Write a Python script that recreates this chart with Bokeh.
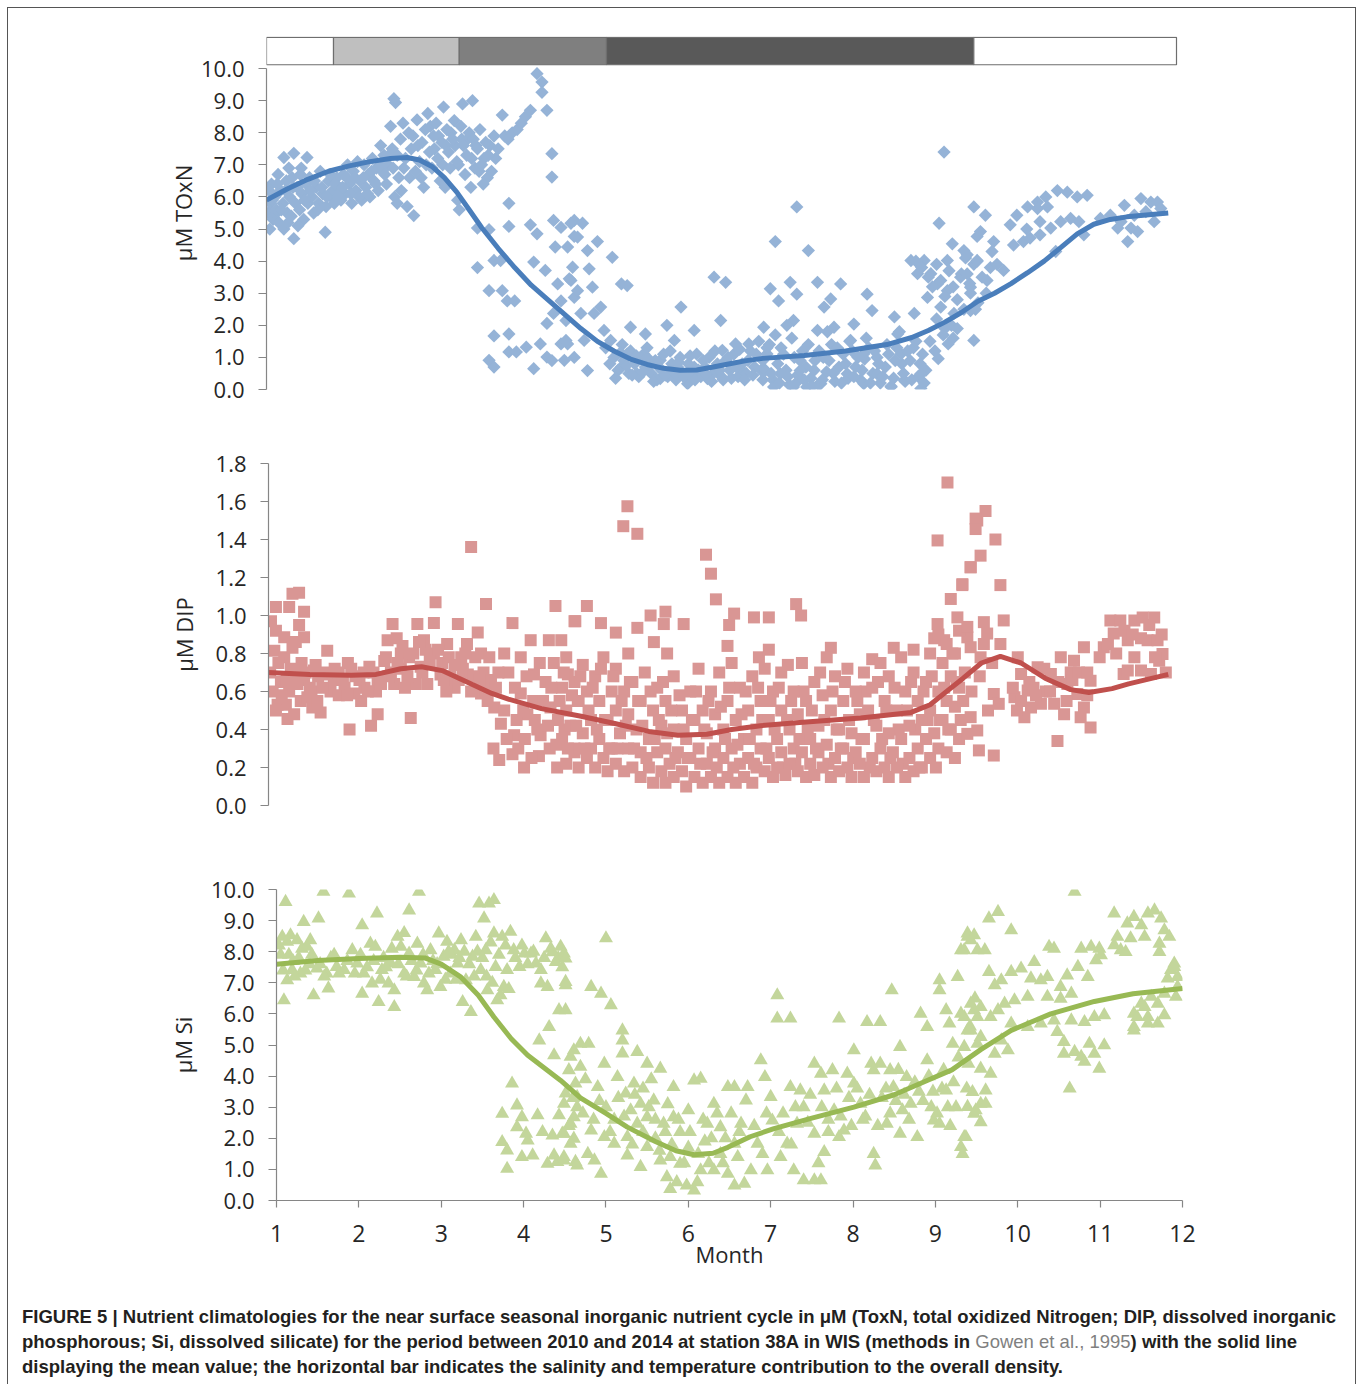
from bokeh.plotting import figure
from bokeh.layouts import column
from bokeh.models import Range1d, FixedTicker, PrintfTickFormatter, Div
from bokeh.embed import file_html
from bokeh.resources import INLINE

# ---------------------------------------------------------------- data
# density contribution bar (month boundaries and shade of each segment)
band_start = [1.0, 1.81, 3.33, 5.11, 9.55]
band_end = [1.81, 3.33, 5.11, 9.55, 12.0]
band_shade = ["#ffffff", "#bfbfbf", "#7f7f7f", "#595959", "#ffffff"]

# TOxN observations (month, uM)
toxn_jan_feb = [
    (1.02, 5.5), (1.03, 6.2), (1.05, 5.8), (1.06, 6.4), (1.08, 5.3), (1.1, 6.0), (1.11, 5.47), (1.12, 5.6),
    (1.14, 6.7), (1.15, 5.2), (1.17, 6.2), (1.2, 5.8), (1.21, 7.23), (1.21, 5.0), (1.24, 6.5), (1.25, 5.5),
    (1.27, 6.9), (1.28, 6.0), (1.3, 5.4), (1.31, 6.6), (1.33, 4.7), (1.33, 7.36), (1.35, 5.8), (1.37, 6.3),
    (1.4, 5.6), (1.42, 6.9), (1.43, 6.1), (1.45, 5.3), (1.48, 6.4), (1.49, 7.23), (1.5, 5.8), (1.52, 6.6),
    (1.55, 6.0), (1.57, 5.5), (1.6, 6.3), (1.63, 5.8), (1.65, 6.8), (1.68, 6.1), (1.71, 4.9), (1.72, 5.7),
    (1.75, 6.5), (1.78, 6.0), (1.8, 6.2), (1.82, 5.8), (1.85, 6.6), (1.88, 6.3), (1.9, 5.9), (1.93, 6.7),
    (1.95, 6.1), (1.98, 7.0), (2.0, 6.4), (2.03, 5.8), (2.05, 6.8), (2.08, 6.2), (2.1, 7.1), (2.13, 6.5),
    (2.15, 5.9), (2.18, 7.0), (2.2, 6.3), (2.23, 6.7), (2.25, 6.0), (2.28, 7.2), (2.3, 6.5), (2.33, 6.9),
    (2.35, 6.2), (2.38, 7.6), (2.4, 6.8), (2.42, 7.3), (2.45, 6.4), (2.47, 7.0),
]
toxn_winter_dense = [
    (1.04, 5.0), (1.07, 5.9), (1.13, 6.4), (1.18, 5.6), (1.23, 6.2), (1.26, 5.2), (1.32, 6.3), (1.38, 5.1),
    (1.41, 6.7), (1.46, 5.9), (1.53, 6.2), (1.58, 6.5), (1.62, 5.6), (1.67, 6.3), (1.73, 6.0), (1.77, 6.7),
    (1.83, 6.4), (1.87, 6.0), (1.92, 6.3), (1.97, 6.6), (2.02, 6.1), (2.07, 6.6), (2.12, 6.0), (2.17, 6.6),
    (2.22, 6.1), (2.27, 6.8), (2.32, 6.4), (2.37, 7.0), (2.43, 6.7), (2.48, 7.3), (2.53, 6.9), (2.58, 7.3),
    (2.63, 6.2), (2.66, 6.9), (2.73, 6.6), (2.77, 7.9), (2.83, 7.6), (2.87, 6.6), (2.93, 7.0), (2.98, 8.2),
    (3.03, 7.5), (3.08, 7.9), (3.13, 7.0), (3.17, 7.6), (3.23, 8.0), (3.28, 7.6), (3.32, 7.0), (3.36, 7.8),
    (3.43, 7.8), (3.48, 7.2), (3.53, 7.6), (3.57, 6.8), (3.63, 7.2), (3.67, 6.6), (3.7, 7.6), (3.77, 7.2),
]
toxn_mar_apr = [
    (2.5, 8.2), (2.52, 7.5), (2.54, 9.06), (2.56, 8.94), (2.55, 6.0), (2.58, 5.8), (2.6, 6.6), (2.62, 7.8),
    (2.65, 8.3), (2.68, 7.2), (2.7, 5.7), (2.72, 8.0), (2.75, 7.5), (2.78, 5.42), (2.8, 6.8), (2.82, 8.4),
    (2.85, 7.1), (2.88, 7.7), (2.9, 6.3), (2.92, 8.1), (2.95, 8.6), (2.97, 7.4), (3.0, 6.9), (3.02, 7.9),
    (3.05, 8.3), (3.07, 7.2), (3.1, 6.5), (3.12, 7.7), (3.14, 8.8), (3.16, 6.3), (3.18, 8.1), (3.2, 7.4),
    (3.22, 6.9), (3.25, 7.8), (3.27, 8.38), (3.3, 7.1), (3.31, 5.9), (3.33, 5.6), (3.35, 8.2), (3.37, 8.9),
    (3.38, 7.6), (3.4, 6.7), (3.42, 7.3), (3.45, 8.0), (3.47, 6.3), (3.49, 9.0), (3.5, 7.8), (3.52, 6.9),
    (3.55, 7.5), (3.58, 8.1), (3.6, 7.0), (3.62, 6.4), (3.65, 7.7), (3.68, 7.3), (3.72, 6.8), (3.75, 7.9),
    (3.8, 7.5), (3.85, 8.55), (3.88, 7.9), (3.92, 7.8), (3.97, 8.0), (4.03, 8.1), (4.08, 8.3), (4.13, 8.5),
    (4.19, 8.7), (4.27, 9.84), (4.33, 9.58), (4.33, 9.26), (4.39, 8.7), (4.45, 7.35), (4.45, 6.62),
    (3.93, 5.8), (3.93, 5.08), (3.55, 3.8), (3.69, 4.98), (3.55, 5.03), (3.75, 4.02), (3.83, 4.02),
    (3.69, 3.08), (3.85, 3.08), (3.91, 2.76), (4.0, 2.76), (3.75, 1.67), (3.93, 1.73), (3.69, 0.91),
    (3.75, 0.7), (3.93, 1.17), (4.02, 1.17), (4.14, 1.32), (4.23, 0.65), (4.31, 1.42), (4.39, 1.01),
    (4.45, 0.9),
]
toxn_may_jun = [
    (4.39, 2.06), (4.47, 2.37), (4.23, 3.97), (4.37, 3.71), (4.19, 5.13), (4.27, 4.85), (4.47, 5.27),
    (4.56, 5.05), (4.49, 4.44), (4.64, 4.44), (4.72, 5.27), (4.76, 4.75), (4.52, 3.29), (4.68, 3.4),
    (4.56, 2.76), (4.72, 2.87), (4.56, 1.42), (4.64, 1.42), (4.72, 1.0), (4.68, 5.18), (4.82, 5.18),
    (4.72, 4.77), (5.0, 4.61), (4.88, 4.33), (4.7, 3.81), (4.9, 3.76), (5.18, 4.12), (4.66, 3.45),
    (4.76, 3.08), (4.94, 3.19), (5.04, 2.57), (5.29, 3.29), (5.36, 3.24), (4.62, 2.15), (4.8, 2.37),
    (4.96, 2.37), (4.62, 1.53), (4.84, 1.53), (5.08, 1.84), (4.6, 0.91), (4.88, 0.59), (5.16, 1.53),
    (5.4, 1.94), (5.58, 1.73), (5.36, 1.11), (5.56, 1.11), (5.76, 0.91), (5.97, 0.7), (6.17, 0.7),
    (5.48, 0.49), (5.76, 0.34), (6.09, 0.18), (6.33, 0.34), (5.29, 0.7), (5.84, 2.0), (6.01, 2.57),
    (5.93, 1.53), (6.17, 1.84), (6.41, 3.5), (6.55, 3.34), (6.49, 2.15), (6.51, 1.22), (6.67, 1.42),
    (6.83, 1.42), (6.75, 0.59),
    (5.1, 1.3), (5.15, 0.8), (5.2, 1.0), (5.25, 0.6), (5.3, 1.4), (5.32, 0.9), (5.38, 0.5), (5.4, 1.2),
    (5.45, 0.8), (5.5, 0.4), (5.52, 1.0), (5.58, 0.7), (5.6, 1.3), (5.65, 0.5), (5.7, 0.9), (5.72, 0.3),
    (5.78, 0.6), (5.8, 1.1), (5.85, 0.4), (5.9, 0.8), (5.95, 0.3), (6.0, 1.0), (6.02, 0.5), (6.08, 0.3),
    (6.1, 0.8), (6.15, 0.5), (6.2, 1.1), (6.25, 0.4), (6.3, 0.7), (6.35, 1.0), (6.4, 0.5), (6.45, 0.8),
    (6.5, 0.4), (6.55, 0.9), (6.6, 0.6), (6.65, 1.1), (6.7, 0.4), (6.75, 0.8), (6.8, 0.5), (6.85, 1.2),
    (6.9, 0.7), (6.95, 1.5),
]
toxn_summer_dense = [
    (5.22, 0.35), (5.28, 1.15), (5.35, 0.75), (5.42, 0.45), (5.47, 1.05), (5.55, 0.55), (5.62, 0.95),
    (5.68, 0.25), (5.74, 0.7), (5.82, 0.45), (5.88, 1.2), (5.92, 0.55), (5.98, 0.85), (6.05, 0.4),
    (6.12, 1.05), (6.18, 0.3), (6.22, 0.6), (6.28, 0.9), (6.32, 0.45), (6.38, 0.25), (6.42, 1.2), (6.48, 0.6),
    (6.52, 0.3), (6.58, 1.0), (6.62, 0.35), (6.68, 0.7), (6.72, 1.25), (6.78, 0.3), (6.82, 0.9), (6.88, 0.45),
    (6.92, 1.1), (6.98, 0.6), (7.03, 0.6), (7.08, 1.4), (7.12, 0.3), (7.18, 0.8), (7.22, 1.3), (7.28, 0.6),
    (7.32, 0.15), (7.38, 1.0), (7.42, 0.45), (7.48, 1.2), (7.52, 0.7), (7.58, 0.35), (7.63, 0.9), (7.67, 0.15),
    (7.73, 1.0), (7.77, 0.55), (7.83, 1.4), (7.87, 0.25), (7.92, 0.7), (7.97, 1.1), (8.03, 0.35), (8.08, 1.2),
    (8.12, 0.7), (8.18, 0.3), (8.23, 0.95), (8.28, 1.3), (8.33, 0.5), (8.38, 1.0), (8.42, 0.2), (8.48, 0.7),
    (8.52, 1.1), (8.58, 0.35), (8.62, 1.3), (8.68, 0.8), (8.72, 0.25), (8.78, 0.9), (8.82, 1.3), (8.88, 0.4),
    (8.93, 1.1), (8.97, 0.6), (9.02, 1.5), (9.08, 1.2), (9.18, 1.7), (9.28, 2.0), (9.35, 1.9),
]
toxn_jul_aug = [
    (7.01, 1.94), (7.15, 4.61), (7.09, 3.14), (7.33, 3.34), (7.41, 5.69), (7.19, 2.76), (7.41, 2.97),
    (7.55, 4.33), (7.66, 3.34), (7.82, 2.82), (7.74, 2.57), (7.94, 3.29), (7.37, 2.15), (7.29, 2.0),
    (7.05, 1.11), (7.13, 0.08), (7.37, 0.08), (7.53, 0.08), (7.21, 0.49), (7.45, 0.59), (7.7, 0.18),
    (7.66, 1.84), (7.86, 1.94), (8.1, 2.04), (8.26, 2.97), (8.32, 2.46), (8.06, 1.53), (8.22, 1.11),
    (8.38, 0.49), (8.02, 0.49), (8.22, 0.18), (8.55, 0.08), (8.71, 0.29), (8.91, 0.49), (8.91, 0.03),
    (8.67, 1.11), (8.63, 1.73), (8.59, 2.26), (8.83, 2.37), (9.12, 0.96), (9.24, 1.42),
    (7.0, 0.3), (7.0, 0.9), (7.05, 1.3), (7.1, 0.5), (7.15, 1.7), (7.2, 0.2), (7.25, 1.1), (7.3, 0.4),
    (7.35, 1.6), (7.4, 0.2), (7.45, 0.9), (7.5, 0.3), (7.55, 1.4), (7.6, 0.1), (7.62, 0.6), (7.68, 1.2),
    (7.72, 0.3), (7.78, 1.8), (7.8, 0.9), (7.85, 0.5), (7.9, 1.3), (7.95, 0.2), (8.0, 0.8), (8.05, 1.5),
    (8.1, 0.4), (8.15, 1.0), (8.2, 0.6), (8.25, 1.6), (8.3, 0.2), (8.35, 1.2), (8.4, 0.8), (8.45, 0.4),
    (8.5, 1.4), (8.55, 0.1), (8.6, 0.9), (8.65, 1.8), (8.7, 0.5), (8.75, 1.2), (8.8, 0.3), (8.85, 1.5),
    (8.9, 0.8), (8.95, 0.2),
]
toxn_sep_dec = [
    (8.79, 4.02), (8.95, 4.02), (8.87, 3.61), (9.03, 3.61), (9.19, 7.4), (9.13, 5.18), (9.29, 4.54),
    (9.23, 4.02), (9.55, 5.69), (9.43, 4.33), (9.59, 4.77), (9.11, 3.29), (9.23, 3.08), (9.39, 3.5),
    (9.51, 3.19), (8.99, 2.87), (9.15, 2.57), (9.31, 2.37), (9.51, 2.46), (9.55, 1.53), (9.59, 4.02),
    (8.85, 4.0), (8.92, 3.8), (9.0, 3.5), (9.05, 3.2), (9.1, 3.9), (9.15, 3.4), (9.2, 2.9), (9.25, 3.7),
    (9.3, 3.2), (9.35, 2.8), (9.4, 3.6), (9.45, 4.1), (9.5, 3.3), (9.55, 3.9), (9.6, 2.7), (9.65, 3.5),
    (9.7, 3.0), (9.75, 3.8), (9.1, 2.2), (9.2, 1.9), (9.3, 1.6),
    (9.69, 5.43), (9.63, 4.92), (9.79, 4.61), (9.77, 4.3), (9.47, 4.2), (9.59, 4.0), (9.83, 3.9),
    (9.91, 3.71), (9.47, 3.6), (9.71, 3.4), (9.51, 3.0), (9.43, 2.5), (9.57, 2.5), (9.99, 5.13),
    (10.07, 5.43), (10.2, 5.69), (10.32, 5.84), (10.42, 6.0), (10.56, 6.2), (10.68, 6.15), (10.8, 6.0),
    (10.92, 6.05), (10.32, 5.64), (10.44, 5.69), (10.03, 4.5), (10.15, 4.61), (10.23, 4.72), (10.35, 4.82),
    (10.48, 5.03), (10.6, 5.23), (10.72, 5.33), (10.82, 5.23), (10.88, 4.82), (10.54, 4.3), (10.19, 5.0),
    (10.35, 5.23), (11.08, 5.33), (11.2, 5.43), (11.33, 5.23), (11.37, 5.74), (11.29, 5.03), (11.41, 4.61),
    (11.53, 4.92), (11.57, 5.95), (11.69, 5.84), (11.77, 5.84), (11.81, 5.64), (11.73, 5.23), (11.49, 5.43),
    (11.63, 5.54), (11.45, 5.03),
]

# DIP observations (month, uM)
dip_jan_mar = [
    (1.09, 1.045), (1.03, 0.97), (1.09, 0.92), (1.19, 0.885), (1.07, 0.815), (1.19, 0.78), (1.29, 0.83),
    (1.29, 1.115), (1.37, 1.12), (1.25, 1.045), (1.43, 1.02), (1.37, 0.95), (1.43, 0.885), (1.33, 0.86),
    (1.11, 0.53), (1.21, 0.53), (1.09, 0.5), (1.23, 0.455), (1.31, 0.48), (1.39, 0.55), (1.47, 0.57),
    (1.53, 0.516), (1.63, 0.49), (1.59, 0.55), (1.31, 0.69), (1.43, 0.66), (1.55, 0.71), (1.67, 0.69),
    (1.71, 0.815), (1.79, 0.66), (1.92, 0.62), (1.96, 0.75), (2.0, 0.72), (2.04, 0.59), (2.12, 0.55),
    (1.98, 0.4), (2.16, 0.62), (2.22, 0.73), (2.24, 0.42), (2.32, 0.48), (2.32, 0.66), (2.4, 0.76),
    (2.44, 0.87), (2.5, 0.955), (2.52, 0.64), (2.6, 0.8), (2.72, 0.46), (2.78, 0.64), (2.8, 0.955),
    (2.84, 0.73), (2.88, 0.87), (2.92, 0.64), (3.0, 0.96), (3.02, 1.07), (3.0, 0.8), (3.08, 0.69),
    (3.16, 0.85), (3.25, 0.62), (3.29, 0.955), (3.33, 0.78), (3.45, 1.36), (3.53, 0.91), (3.63, 1.06),
    (3.41, 0.69), (3.57, 0.8), (3.57, 0.59), (3.69, 0.66), (1.5, 0.62), (1.6, 0.68), (1.75, 0.6),
    (1.85, 0.7), (2.1, 0.66), (2.3, 0.6), (2.45, 0.68), (2.6, 0.72), (2.7, 0.78), (2.9, 0.82), (3.1, 0.75),
    (3.2, 0.68), (3.35, 0.72), (3.45, 0.6), (3.5, 0.78), (3.6, 0.7), (1.02, 0.7), (1.15, 0.65),
    (1.25, 0.6), (1.4, 0.75), (1.85, 0.58), (2.55, 0.88), (2.65, 0.62), (3.15, 0.6), (3.4, 0.85),
]
dip_winter_dense = [
    (1.05, 0.6), (1.12, 0.75), (1.16, 0.58), (1.22, 0.66), (1.27, 0.72), (1.35, 0.64), (1.45, 0.7),
    (1.52, 0.6), (1.57, 0.74), (1.65, 0.62), (1.7, 0.7), (1.8, 0.72), (1.9, 0.66), (1.95, 0.58), (2.05, 0.68),
    (2.15, 0.7), (2.2, 0.6), (2.27, 0.7), (2.36, 0.64), (2.42, 0.78), (2.48, 0.7), (2.56, 0.75), (2.62, 0.84),
    (2.68, 0.68), (2.75, 0.8), (2.82, 0.86), (2.86, 0.7), (2.95, 0.76), (3.05, 0.82), (3.12, 0.66),
    (3.18, 0.78), (3.25, 0.74), (3.3, 0.66), (3.38, 0.8), (3.48, 0.68), (3.55, 0.66), (3.62, 0.6), (3.67, 0.78),
]
dip_apr_jun = [
    (3.73, 0.516), (3.79, 0.24), (3.81, 0.43), (3.85, 0.8), (3.95, 0.96), (3.95, 0.27), (3.97, 0.37),
    (4.09, 0.2), (4.05, 0.59), (4.13, 0.48), (4.17, 0.87), (4.21, 0.69), (4.27, 0.26), (4.29, 0.37),
    (4.39, 0.87), (4.41, 0.516), (4.47, 1.05), (4.49, 0.2), (4.54, 0.87), (4.58, 0.4), (4.62, 0.69),
    (4.7, 0.97), (4.7, 0.28), (4.74, 0.55), (3.65, 0.55), (3.75, 0.62), (3.85, 0.5), (3.9, 0.7),
    (4.0, 0.45), (4.05, 0.78), (4.1, 0.35), (4.2, 0.55), (4.25, 0.4), (4.35, 0.65), (4.4, 0.3),
    (4.45, 0.75), (4.5, 0.45),
    (5.34, 1.575), (5.29, 1.47), (5.46, 1.43), (4.85, 1.05), (4.71, 0.97), (5.02, 0.96), (5.2, 0.91),
    (5.46, 0.935), (5.62, 1.0), (5.8, 1.02), (5.78, 0.955), (6.02, 0.955), (5.66, 0.86), (5.82, 0.8),
    (4.55, 0.35), (4.55, 0.62), (4.6, 0.22), (4.6, 0.5), (4.6, 0.78), (4.65, 0.42), (4.7, 0.3), (4.7, 0.65),
    (4.75, 0.2), (4.75, 0.55), (4.8, 0.38), (4.8, 0.74), (4.85, 0.25), (4.85, 0.6), (4.9, 0.45), (4.9, 0.3),
    (4.95, 0.2), (4.95, 0.68), (5.0, 0.35), (5.0, 0.55), (5.05, 0.25), (5.05, 0.78), (5.1, 0.45), (5.1, 0.18),
    (5.15, 0.6), (5.15, 0.3), (5.2, 0.22), (5.2, 0.5), (5.2, 0.72), (5.25, 0.38), (5.3, 0.18), (5.3, 0.6),
    (5.35, 0.3), (5.35, 0.48), (5.35, 0.8), (5.4, 0.2), (5.4, 0.65), (5.45, 0.4), (5.5, 0.15), (5.5, 0.55),
    (5.5, 0.28), (5.55, 0.7), (5.6, 0.35), (5.6, 0.2), (5.65, 0.5), (5.65, 0.12), (5.7, 0.28), (5.7, 0.62),
    (5.75, 0.18), (5.75, 0.42), (5.8, 0.3), (5.8, 0.55), (5.8, 0.12), (5.85, 0.22), (5.9, 0.4), (5.9, 0.15),
    (5.9, 0.68), (5.95, 0.28), (6.0, 0.18), (6.0, 0.5), (6.05, 0.1), (6.05, 0.35), (6.1, 0.25), (6.1, 0.6),
    (6.15, 0.15), (6.15, 0.45), (6.2, 0.3), (6.2, 0.72), (6.25, 0.12), (6.25, 0.5), (6.3, 0.22), (6.3, 0.38),
    (6.35, 0.6), (6.35, 0.15), (6.4, 0.3), (6.4, 0.48), (6.45, 0.12), (6.45, 0.7), (6.5, 0.25), (6.5, 0.4),
    (6.55, 0.15), (6.55, 0.55), (6.6, 0.3), (6.6, 0.75), (6.65, 0.12), (6.65, 0.45), (6.7, 0.22), (6.7, 0.62),
    (6.75, 0.35), (6.75, 0.15), (6.8, 0.5), (6.8, 0.25), (6.85, 0.12), (6.85, 0.68), (6.9, 0.4), (6.9, 0.2),
    (6.95, 0.3), (6.95, 0.55),
    (6.29, 1.32), (6.35, 1.22), (6.41, 1.085), (6.63, 1.01), (6.57, 0.95), (6.87, 0.99), (6.55, 0.84),
    (6.93, 0.78),
]
dip_summer_dense = [
    (3.72, 0.3), (3.78, 0.7), (3.88, 0.35), (3.98, 0.62), (4.02, 0.3), (4.08, 0.5), (4.12, 0.68), (4.18, 0.25),
    (4.22, 0.45), (4.28, 0.75), (4.32, 0.55), (4.38, 0.42), (4.42, 0.62), (4.48, 0.32), (4.52, 0.55),
    (4.57, 0.7), (4.62, 0.3), (4.67, 0.58), (4.72, 0.42), (4.77, 0.68), (4.82, 0.3), (4.87, 0.5), (4.92, 0.62),
    (4.97, 0.4), (5.02, 0.72), (5.07, 0.45), (5.12, 0.3), (5.17, 0.68), (5.22, 0.3), (5.27, 0.55), (5.32, 0.42),
    (5.37, 0.65), (5.42, 0.3), (5.47, 0.55), (5.52, 0.42), (5.57, 0.25), (5.62, 0.6), (5.67, 0.35), (5.72, 0.45),
    (5.77, 0.65), (5.82, 0.38), (5.87, 0.5), (5.92, 0.25), (5.97, 0.58), (6.02, 0.4), (6.07, 0.25), (6.12, 0.45),
    (6.17, 0.6), (6.22, 0.22), (6.27, 0.4), (6.32, 0.55), (6.37, 0.28), (6.42, 0.2), (6.47, 0.52), (6.52, 0.35),
    (6.57, 0.62), (6.62, 0.2), (6.67, 0.32), (6.72, 0.48), (6.77, 0.6), (6.82, 0.35), (6.87, 0.22), (6.92, 0.62),
    (6.97, 0.45), (7.02, 0.3), (7.07, 0.55), (7.12, 0.4), (7.17, 0.62), (7.22, 0.2), (7.27, 0.45), (7.32, 0.55),
    (7.37, 0.22), (7.42, 0.35), (7.47, 0.6), (7.52, 0.4), (7.57, 0.5), (7.62, 0.3), (7.67, 0.7), (7.72, 0.45),
    (7.77, 0.22), (7.82, 0.6), (7.87, 0.4), (7.92, 0.3), (7.97, 0.65), (8.02, 0.45), (8.07, 0.25), (8.12, 0.55),
    (8.17, 0.35), (8.22, 0.6), (8.27, 0.2), (8.32, 0.45), (8.37, 0.65), (8.42, 0.35), (8.47, 0.5), (8.52, 0.25),
    (8.57, 0.62), (8.62, 0.4), (8.67, 0.22), (8.72, 0.5), (8.77, 0.65), (8.82, 0.4), (8.87, 0.2), (8.92, 0.6),
    (8.97, 0.45), (9.02, 0.68), (9.07, 0.2), (9.12, 0.45), (9.17, 0.62), (9.22, 0.4), (9.27, 0.8), (9.32, 0.65),
    (9.37, 0.45),
]
dip_jul_sep = [
    (7.05, 0.99), (7.38, 1.06), (7.44, 1.0), (7.05, 0.82), (7.28, 0.74), (7.8, 0.83), (8.3, 0.77),
    (8.56, 0.83), (8.8, 0.82), (9.09, 0.955), (9.33, 0.99), (9.17, 0.87), (9.45, 0.885),
    (9.21, 1.70), (9.09, 1.395), (9.57, 1.5), (9.49, 1.254), (9.39, 1.165), (9.25, 1.087),
    (7.0, 0.18), (7.0, 0.72), (7.05, 0.45), (7.05, 0.25), (7.1, 0.15), (7.1, 0.6), (7.15, 0.35), (7.15, 0.2),
    (7.2, 0.5), (7.2, 0.28), (7.2, 0.7), (7.25, 0.16), (7.3, 0.4), (7.3, 0.22), (7.35, 0.6), (7.35, 0.3),
    (7.4, 0.18), (7.4, 0.48), (7.45, 0.28), (7.45, 0.75), (7.5, 0.15), (7.5, 0.55), (7.55, 0.35), (7.55, 0.22),
    (7.6, 0.65), (7.6, 0.16), (7.65, 0.42), (7.65, 0.28), (7.7, 0.2), (7.7, 0.58), (7.75, 0.32), (7.75, 0.78),
    (7.8, 0.15), (7.8, 0.5), (7.85, 0.25), (7.85, 0.68), (7.9, 0.4), (7.9, 0.18), (7.95, 0.55), (7.95, 0.3),
    (8.0, 0.2), (8.0, 0.72), (8.05, 0.38), (8.05, 0.15), (8.1, 0.6), (8.1, 0.28), (8.15, 0.22), (8.15, 0.48),
    (8.2, 0.35), (8.2, 0.7), (8.2, 0.15), (8.25, 0.5), (8.3, 0.25), (8.3, 0.62), (8.35, 0.18), (8.35, 0.42),
    (8.4, 0.3), (8.4, 0.75), (8.45, 0.55), (8.45, 0.2), (8.5, 0.38), (8.5, 0.15), (8.5, 0.68), (8.55, 0.28),
    (8.6, 0.5), (8.6, 0.2), (8.65, 0.35), (8.65, 0.78), (8.7, 0.15), (8.7, 0.6), (8.75, 0.42), (8.75, 0.25),
    (8.8, 0.7), (8.8, 0.18), (8.85, 0.3), (8.85, 0.55), (8.9, 0.2), (8.9, 0.45), (8.95, 0.65), (8.95, 0.35),
    (9.0, 0.25), (9.0, 0.5), (9.0, 0.8), (9.05, 0.38), (9.05, 0.88), (9.1, 0.3), (9.1, 0.6), (9.1, 0.9),
    (9.15, 0.45), (9.15, 0.75), (9.2, 0.28), (9.2, 0.55), (9.2, 0.85), (9.25, 0.4), (9.25, 0.68), (9.3, 0.25),
    (9.3, 0.52), (9.3, 0.8), (9.35, 0.35), (9.35, 0.62), (9.35, 0.92),
]
dip_oct_dec = [
    (9.67, 1.55), (9.55, 1.51), (9.55, 1.455), (9.79, 1.4), (9.61, 1.315), (9.49, 1.254), (9.85, 1.16),
    (9.39, 1.16), (9.89, 0.974), (9.65, 0.965), (9.45, 0.94), (9.69, 0.905), (9.85, 0.85), (9.49, 0.833),
    (9.61, 0.78), (9.75, 0.75), (9.77, 0.587), (9.83, 0.535), (9.49, 0.465), (9.57, 0.395), (9.59, 0.29),
    (9.77, 0.263), (9.45, 0.377), (10.06, 0.78), (10.1, 0.692), (10.02, 0.57), (10.14, 0.465), (10.18, 0.605),
    (10.3, 0.727), (10.34, 0.535), (10.46, 0.692), (10.5, 0.535), (10.54, 0.34), (10.58, 0.78), (10.62, 0.48),
    (10.74, 0.762), (10.78, 0.587), (10.86, 0.833), (10.86, 0.516), (10.94, 0.41), (10.94, 0.657),
    (10.82, 0.465), (11.1, 0.833), (11.18, 0.974), (11.22, 0.905), (11.34, 0.692), (11.3, 0.974),
    (11.39, 0.87), (11.47, 0.974), (11.47, 0.78), (11.57, 0.99), (11.63, 0.87), (11.71, 0.99), (11.75, 0.87),
    (11.77, 0.762), (11.55, 0.71), (11.67, 0.692), (11.81, 0.797), (11.39, 0.71), (10.1, 0.55),
    (10.22, 0.516), (9.42, 0.7), (9.5, 0.6), (9.6, 0.68), (9.7, 0.5), (9.65, 0.85), (9.4, 0.55),
    (10.25, 0.62), (10.4, 0.6), (10.66, 0.64), (10.7, 0.7), (10.9, 0.58),
]
dip_autumn_dense = [
    (10.0, 0.62), (10.05, 0.5), (10.2, 0.65), (10.28, 0.58), (10.38, 0.72), (10.45, 0.6), (10.55, 0.65),
    (10.65, 0.55), (10.72, 0.66), (10.8, 0.7), (10.9, 0.7), (11.05, 0.78), (11.15, 0.85), (11.25, 0.8),
    (11.35, 0.92), (11.45, 0.9), (11.55, 0.88), (11.65, 0.95), (11.72, 0.78), (11.8, 0.9), (11.85, 0.7),
]

# Si observations (month, uM)
si_jan_mar = [
    (1.11, 9.6), (1.07, 8.48), (1.13, 8.32), (1.17, 8.53), (1.25, 8.37), (1.31, 8.1), (1.37, 8.16),
    (1.41, 8.37), (1.33, 8.96), (1.51, 9.07), (1.57, 9.93), (1.88, 9.87), (2.04, 8.85), (2.22, 9.23),
    (2.61, 9.33), (2.73, 9.93), (1.09, 6.44), (1.13, 7.08), (1.19, 7.41), (1.29, 7.3), (1.45, 6.6),
    (1.63, 6.82), (1.49, 7.46), (1.61, 7.3), (1.73, 7.51), (1.82, 7.41), (1.92, 8.05), (1.98, 7.62),
    (2.06, 7.3), (2.04, 6.65), (2.14, 8.26), (2.2, 8.16), (2.16, 6.98), (2.24, 6.38), (2.28, 7.41),
    (2.36, 6.98), (2.43, 6.22), (2.43, 6.76), (2.39, 7.62), (2.47, 8.48), (2.51, 8.16), (2.55, 7.3),
    (2.61, 7.94), (2.67, 7.19), (2.71, 8.26), (2.75, 7.62), (2.79, 6.98), (2.83, 6.76), (2.87, 8.05),
    (2.93, 7.41), (2.97, 8.59), (2.99, 6.87), (3.03, 7.84), (3.07, 8.32), (3.11, 7.3), (3.16, 8.05),
    (3.2, 7.62), (3.24, 8.37), (3.26, 6.38), (3.3, 7.08), (3.36, 6.06), (3.38, 7.84), (3.42, 8.48),
    (3.46, 9.55), (3.48, 7.41), (3.52, 9.07), (3.54, 8.05), (3.56, 6.76), (3.58, 9.55), (3.64, 9.66),
    (3.64, 8.59), (3.66, 7.51), (3.68, 6.44), (1.05, 7.9), (1.2, 7.7), (1.4, 7.6), (1.7, 7.9),
    (2.3, 7.8), (2.55, 8.6), (2.9, 7.7), (3.13, 7.9),
]
si_winter_dense = [
    (1.03, 8.2), (1.08, 7.4), (1.15, 7.9), (1.22, 7.2), (1.27, 7.8), (1.35, 7.4), (1.43, 7.9), (1.53, 7.6),
    (1.58, 7.2), (1.66, 7.8), (1.76, 7.3), (1.86, 7.7), (1.95, 7.3), (2.02, 7.9), (2.1, 7.5), (2.18, 7.7),
    (2.26, 7.1), (2.33, 7.5), (2.4, 8.1), (2.48, 7.6), (2.58, 7.2), (2.64, 7.7), (2.7, 7.4), (2.78, 7.9),
    (2.85, 7.3), (2.95, 7.6), (3.05, 7.1), (3.09, 8.0), (3.18, 7.1), (3.22, 7.8), (3.28, 8.0), (3.34, 7.6),
    (3.4, 7.2), (3.44, 8.0), (3.5, 7.8), (3.55, 7.2), (3.6, 8.3), (3.62, 7.0), (3.7, 7.9), (3.72, 6.6),
    (3.78, 8.2), (3.82, 6.8), (3.9, 7.8), (3.98, 8.2), (4.05, 7.6), (4.12, 8.0), (4.25, 7.8), (4.33, 8.1),
    (4.42, 7.8), (4.47, 7.5),
]
si_apr_jun = [
    (3.74, 8.48), (3.76, 6.87), (3.8, 7.41), (3.84, 8.64), (3.88, 8.05), (3.95, 7.51), (4.01, 7.94),
    (4.09, 7.94), (4.15, 7.62), (4.21, 7.41), (4.21, 6.98), (4.27, 8.43), (4.29, 6.87), (4.35, 7.98),
    (4.39, 7.67), (4.45, 8.16), (4.49, 7.94), (4.51, 6.92), (4.43, 6.12), (4.31, 5.58), (4.19, 5.15),
    (4.37, 4.67), (3.74, 2.79), (3.86, 3.76), (3.92, 3.06), (3.98, 2.68), (3.92, 2.36), (4.03, 2.15),
    (4.05, 1.93), (3.74, 1.88), (3.8, 1.61), (3.8, 1.02), (3.98, 1.4), (4.11, 1.45), (4.17, 2.74),
    (4.23, 2.2), (4.29, 1.18), (4.37, 1.45), (4.41, 1.24), (4.49, 1.4), (4.35, 2.09), (4.43, 2.74),
    (4.47, 2.15), (4.51, 3.44), (4.57, 2.47), (4.61, 1.99), (4.63, 1.24), (4.55, 4.19), (4.61, 4.83),
    (4.65, 3.0), (4.63, 3.76),
    (4.51, 7.78), (5.0, 8.43), (4.51, 7.03), (4.51, 6.12), (4.82, 6.87), (4.94, 6.65), (5.06, 6.28),
    (5.2, 5.47), (5.2, 5.15), (4.69, 5.04), (4.79, 5.04), (4.57, 4.62), (5.38, 4.78), (5.2, 4.73),
    (4.98, 4.4), (4.69, 4.3), (5.5, 4.4), (5.66, 4.24), (6.07, 3.86), (6.15, 3.92), (5.82, 3.65),
    (5.14, 3.97), (5.34, 3.76), (5.24, 3.44), (4.9, 3.65), (4.65, 3.33), (4.49, 3.11), (5.58, 3.22),
    (5.42, 3.11), (5.82, 2.68), (5.7, 2.47), (5.5, 2.68), (5.38, 2.47), (5.26, 2.04), (4.98, 2.04),
    (4.82, 2.25), (4.61, 2.68), (4.49, 2.15), (4.57, 1.83), (4.49, 1.29), (4.65, 1.13), (4.86, 1.29),
    (4.94, 0.86), (4.78, 1.5), (5.1, 1.83), (5.26, 1.45), (5.42, 1.08), (5.5, 1.72), (5.66, 1.29),
    (5.74, 0.75), (5.86, 0.59), (5.98, 0.48), (6.11, 0.59), (6.15, 0.97), (5.9, 1.18), (5.78, 1.4),
    (6.07, 0.32), (5.78, 0.37), (6.31, 3.11), (6.23, 2.47), (6.39, 2.36), (6.48, 3.65), (6.56, 3.65),
    (6.64, 2.47), (6.72, 3.65), (6.7, 3.22), (6.56, 1.83), (6.39, 1.5), (6.31, 0.97), (6.48, 0.86),
    (6.56, 0.48), (6.68, 0.54), (6.76, 0.97), (6.88, 4.51), (6.93, 3.97), (6.84, 1.83), (6.96, 0.97),
    (5.0, 3.0), (5.1, 2.6), (5.3, 2.9), (5.45, 3.6), (5.6, 2.0), (5.75, 3.1), (5.9, 2.2), (6.0, 1.7),
    (6.2, 1.9), (6.35, 2.8), (6.0, 2.9), (5.55, 3.9),
]
si_summer_dense = [
    (4.55, 2.4), (4.6, 3.3), (4.72, 2.8), (4.75, 3.9), (4.85, 2.6), (4.92, 3.2), (5.05, 2.2), (5.15, 3.3),
    (5.22, 2.7), (5.32, 1.8), (5.35, 3.4), (5.45, 2.2), (5.52, 3.0), (5.6, 2.6), (5.65, 1.6), (5.72, 2.2),
    (5.8, 1.8), (5.88, 2.6), (5.95, 1.2), (6.02, 2.2), (6.12, 1.5), (6.18, 2.6), (6.25, 1.2), (6.28, 2.0),
    (6.42, 1.2), (6.45, 2.0), (6.52, 2.8), (6.6, 1.4), (6.62, 2.2), (6.8, 2.4), (6.9, 1.5), (6.95, 2.8),
    (7.15, 2.8), (7.25, 1.8), (7.3, 3.0), (7.45, 2.5), (7.48, 3.4), (7.58, 1.2), (7.62, 3.0), (7.7, 2.2),
    (7.8, 3.6), (7.85, 2.7), (7.98, 2.4), (8.05, 3.6), (8.12, 2.6), (8.2, 3.4), (8.22, 4.4), (8.3, 2.4),
    (8.4, 3.6), (8.45, 2.8), (8.52, 3.2), (8.55, 4.2), (8.62, 3.4), (8.68, 2.6), (8.75, 3.8), (8.85, 3.2),
    (8.92, 4.0), (8.97, 3.5), (9.02, 2.8), (9.08, 3.6), (9.15, 3.0), (9.18, 2.4), (9.22, 3.8), (9.28, 4.6),
    (9.38, 3.6), (9.42, 5.6), (9.48, 6.5),
]
si_jul_sep = [
    (7.0, 3.33), (7.02, 2.57), (7.08, 6.6), (7.08, 5.85), (7.24, 5.85), (7.12, 1.4), (7.2, 1.83),
    (7.24, 3.65), (7.36, 3.54), (7.32, 2.47), (7.28, 0.97), (7.4, 0.65), (7.53, 0.65), (7.61, 0.65),
    (7.53, 4.4), (7.65, 3.54), (7.61, 4.08), (7.75, 4.19), (7.53, 2.15), (7.65, 1.56), (7.77, 2.9),
    (7.83, 5.85), (7.83, 2.04), (7.93, 4.08), (8.01, 4.83), (8.01, 3.76), (7.89, 2.25), (8.09, 3.11),
    (8.17, 5.74), (8.33, 5.74), (8.25, 4.19), (8.25, 1.5), (8.27, 1.13), (8.33, 4.4), (8.45, 4.19),
    (8.47, 6.76), (8.57, 4.94), (8.49, 3.65), (8.41, 2.47), (8.65, 3.97), (8.7, 3.11), (8.57, 2.15),
    (8.78, 2.04), (8.82, 6.01), (8.9, 5.58), (8.9, 4.51), (8.98, 2.57), (9.05, 2.47), (9.05, 7.08),
    (9.05, 6.76), (9.13, 6.12), (9.17, 5.69), (9.13, 3.54), (9.21, 5.04), (9.31, 1.72), (9.35, 2.04),
    (9.27, 7.19), (9.31, 8.05), (9.39, 8.59), (9.43, 8.37), (9.51, 8.05), (9.35, 5.9), (9.43, 5.47),
    (9.51, 5.04), (9.47, 6.12), (9.55, 3.11), (9.47, 2.79),
    (7.1, 2.2), (7.4, 3.0), (7.7, 2.6), (7.95, 3.3), (8.15, 2.7), (8.35, 3.3), (8.6, 2.9), (8.8, 3.5),
    (8.95, 3.0), (9.1, 4.2), (9.25, 3.0), (9.4, 4.4),
]
si_oct_dec = [
    (9.76, 9.28), (9.65, 9.07), (9.92, 8.69), (9.39, 8.48), (9.47, 8.53), (9.35, 8.05), (9.6, 8.05),
    (10.69, 9.93), (11.17, 9.23), (11.41, 9.12), (11.58, 9.23), (11.66, 9.33), (11.74, 9.07), (11.33, 8.91),
    (11.5, 8.85), (11.21, 8.48), (11.37, 8.43), (11.54, 8.48), (11.78, 8.69), (11.84, 8.48), (11.72, 8.26),
    (11.17, 8.21), (11.25, 8.05), (11.31, 7.99), (11.72, 7.99), (10.38, 8.16), (10.44, 8.1), (10.77, 8.1),
    (10.89, 8.16), (10.99, 8.1), (11.01, 7.89), (10.95, 7.73), (11.9, 7.62), (11.86, 7.41), (11.94, 7.19),
    (11.82, 7.14), (11.92, 6.55), (11.78, 6.65), (11.62, 6.55), (11.7, 6.33), (11.54, 6.22), (11.78, 5.96),
    (11.58, 5.9), (11.41, 6.01), (11.41, 5.58), (11.58, 5.69), (11.7, 5.69), (11.41, 5.47), (11.5, 6.33),
    (11.94, 6.87), (10.2, 7.67), (10.04, 7.46), (9.92, 7.35), (9.65, 7.35), (9.8, 7.08), (9.72, 6.92),
    (10.16, 7.14), (10.28, 7.08), (10.36, 7.19), (10.52, 6.87), (10.6, 7.24), (10.73, 7.51), (10.85, 7.19),
    (10.65, 6.65), (10.36, 6.55), (10.52, 6.49), (9.96, 6.44), (10.12, 6.55), (9.43, 6.33), (9.55, 6.22),
    (9.76, 6.12), (9.84, 6.33), (9.31, 6.01), (9.51, 5.9), (9.67, 5.9), (9.92, 5.69), (10.12, 5.58),
    (10.28, 5.69), (10.44, 5.79), (10.48, 5.42), (10.65, 5.79), (10.81, 5.74), (10.93, 5.9), (11.05, 5.96),
    (9.39, 5.47), (9.55, 5.26), (9.35, 4.94), (9.8, 5.15), (9.72, 4.72), (9.88, 4.83), (10.56, 5.1),
    (10.56, 4.72), (10.69, 4.78), (10.77, 4.62), (10.87, 5.04), (10.93, 4.72), (11.05, 4.99), (10.81, 4.46),
    (10.99, 4.24), (10.63, 3.6), (9.55, 4.24), (9.67, 4.08), (9.45, 3.49), (9.61, 3.54), (9.39, 3.01),
    (9.49, 2.9), (9.61, 3.11), (9.55, 2.52), (9.37, 2.04), (9.33, 1.5), (11.45, 5.9), (11.9, 7.51),
]

# climatological means (month, uM)
toxn_mean_month = [1.0, 1.25, 1.5, 1.75, 2.0, 2.25, 2.5, 2.7, 2.85, 3.0, 3.15, 3.3, 3.45, 3.6, 3.8, 4.0,
                   4.2, 4.4, 4.6, 4.8, 5.0, 5.2, 5.4, 5.6, 5.8, 6.0, 6.2, 6.4, 6.6, 6.8, 7.0, 7.5, 8.0,
                   8.5, 8.8, 9.0, 9.2, 9.4, 9.6, 9.8, 10.0, 10.2, 10.4, 10.6, 10.8, 11.0, 11.2, 11.4,
                   11.6, 11.9]
toxn_mean = [5.9, 6.25, 6.55, 6.8, 6.97, 7.1, 7.2, 7.23, 7.15, 6.95, 6.6, 6.15, 5.6, 5.05, 4.4, 3.8,
             3.25, 2.8, 2.35, 1.9, 1.5, 1.2, 0.95, 0.78, 0.66, 0.6, 0.61, 0.7, 0.8, 0.9, 0.97, 1.06, 1.2,
             1.4, 1.62, 1.84, 2.1, 2.4, 2.75, 3.0, 3.3, 3.64, 4.0, 4.42, 4.85, 5.15, 5.3, 5.38, 5.43, 5.5]
dip_mean_month = [1.0, 1.5, 2.0, 2.3, 2.6, 2.85, 3.1, 3.4, 3.7, 3.9, 4.3, 4.78, 5.2, 5.6, 5.95, 6.3,
                  6.6, 6.95, 7.5, 8.16, 8.77, 9.0, 9.17, 9.4, 9.62, 9.85, 10.1, 10.39, 10.7, 10.92,
                  11.2, 11.4, 11.88]
dip_mean = [0.70, 0.69, 0.685, 0.69, 0.72, 0.73, 0.71, 0.65, 0.59, 0.56, 0.51, 0.47, 0.43, 0.39, 0.37,
            0.375, 0.40, 0.42, 0.44, 0.46, 0.49, 0.53, 0.59, 0.67, 0.75, 0.785, 0.75, 0.67, 0.61, 0.595,
            0.615, 0.64, 0.69]
si_mean_month = [1.0, 1.5, 2.0, 2.5, 2.8, 3.0, 3.24, 3.45, 3.64, 3.85, 4.05, 4.45, 4.69, 5.0, 5.26, 5.6,
                 5.85, 6.07, 6.3, 6.48, 6.75, 7.04, 7.5, 8.01, 8.5, 8.9, 9.2, 9.55, 9.92, 10.4, 10.93,
                 11.4, 12.0]
si_mean = [7.6, 7.72, 7.78, 7.82, 7.8, 7.6, 7.18, 6.6, 5.9, 5.2, 4.67, 3.86, 3.3, 2.8, 2.36, 1.9, 1.6,
           1.47, 1.52, 1.71, 2.05, 2.31, 2.65, 3.0, 3.4, 3.86, 4.2, 4.85, 5.47, 6.0, 6.4, 6.65, 6.82]

month_ticks = list(range(1, 13))
toxn_ticks = [float(v) for v in range(0, 11)]
dip_ticks = [round(0.2 * i, 1) for i in range(0, 10)]
si_ticks = [float(v) for v in range(0, 11)]

# ---------------------------------------------------------------- styling
AXIS_GREY = "#868686"
TEXT_DARK = "#262626"
FONT = "Open Sans"
LEFT, RIGHT = 266, 176   # shared frame borders, so the stacked panels line up


def split(groups):
    xs, ys = [], []
    for g in groups:
        for m, v in g:
            xs.append(m)
            ys.append(v)
    return xs, ys


def make_panel(height, top, bottom, xr, yr, ticks, ylabel, label_standoff, shift=0, width=1358):
    p = figure(width=width, height=height, x_range=xr, y_range=yr,
               output_backend="svg", toolbar_location=None,
               min_border_left=LEFT, min_border_right=RIGHT,
               min_border_top=top, min_border_bottom=bottom)
    if shift:
        # nudge this panel sideways without disturbing the shared frame alignment
        p.styles = {"transform": f"translateX({shift}px)"}
    p.background_fill_color = None
    p.border_fill_color = None
    p.outline_line_color = None
    p.grid.visible = False
    ax = p.yaxis[0]
    ax.ticker = FixedTicker(ticks=ticks)
    ax.formatter = PrintfTickFormatter(format="%.1f")
    ax.bounds = (ticks[0], ticks[-1])
    ax.axis_line_color = AXIS_GREY
    ax.axis_line_width = 1.2
    ax.major_tick_line_color = AXIS_GREY
    ax.major_tick_line_width = 1.2
    ax.major_tick_out = 8
    ax.major_tick_in = 0
    ax.minor_tick_line_color = None
    ax.major_label_text_font = FONT
    ax.major_label_text_font_size = "22px"
    ax.major_label_text_color = TEXT_DARK
    ax.major_label_standoff = 14
    ax.axis_label = ylabel
    ax.axis_label_text_font = FONT
    ax.axis_label_text_font_size = "22px"
    ax.axis_label_text_font_style = "normal"
    ax.axis_label_text_color = TEXT_DARK
    ax.axis_label_standoff = label_standoff
    return p


# ---------------------------------------------------------------- TOxN panel
p_top = make_panel(420, 36, 31, Range1d(1, 12.0725), Range1d(0, 11), toxn_ticks, "µM TOxN", 0)
p_top.xaxis.visible = False
BAND_BOTTOM, BAND_TOP = 10.12, 10.97
p_top.quad(left=band_start, right=band_end, bottom=BAND_BOTTOM, top=BAND_TOP,
           fill_color=band_shade, line_color="#6e6e6e", line_width=1.2)
tx, ty = split([toxn_jan_feb, toxn_winter_dense, toxn_mar_apr, toxn_may_jun, toxn_summer_dense,
                toxn_jul_aug, toxn_sep_dec])
p_top.scatter(tx, ty, marker="square", size=9.4, angle=0.7854,
              fill_color="#95b3d7", line_color=None)
p_top.line(toxn_mean_month, toxn_mean, line_color="#4a7ebb", line_width=5)

# ---------------------------------------------------------------- DIP panel
p_mid = make_panel(430, 43, 45, Range1d(1, 12.076), Range1d(0, 1.8), dip_ticks, "µM DIP", 14, shift=2)
p_mid.xaxis.visible = False
dx, dy = split([dip_jan_mar, dip_winter_dense, dip_apr_jun, dip_summer_dense, dip_jul_sep,
                dip_oct_dec, dip_autumn_dense])
p_mid.scatter(dx, dy, marker="square", size=12, fill_color="#d99694", line_color=None)
p_mid.line(dip_mean_month, dip_mean, line_color="#c0504d", line_width=5)

# ---------------------------------------------------------------- Si panel
p_bot = make_panel(430, 39, 80, Range1d(1, 12), Range1d(0, 10), si_ticks, "µM Si", 10,
                   shift=10, width=1348)
xa = p_bot.xaxis[0]
xa.ticker = FixedTicker(ticks=month_ticks)
xa.bounds = (1, 12)
xa.axis_line_color = AXIS_GREY
xa.axis_line_width = 1.2
xa.major_tick_line_color = AXIS_GREY
xa.major_tick_line_width = 1.2
xa.major_tick_out = 7
xa.major_tick_in = 0
xa.minor_tick_line_color = None
xa.major_label_text_font = FONT
xa.major_label_text_font_size = "23px"
xa.major_label_text_color = TEXT_DARK
xa.major_label_standoff = 17
xa.axis_label = "Month"
xa.axis_label_text_font = FONT
xa.axis_label_text_font_size = "22px"
xa.axis_label_text_font_style = "normal"
xa.axis_label_text_color = TEXT_DARK
xa.axis_label_standoff = -6
sx, sy = split([si_jan_mar, si_winter_dense, si_apr_jun, si_summer_dense, si_jul_sep, si_oct_dec])
p_bot.scatter(sx, sy, marker="triangle", size=14, fill_color="#c3d69b", line_color=None)
p_bot.line(si_mean_month, si_mean, line_color="#98b954", line_width=5)

# ---------------------------------------------------------------- caption
caption_html = (
    '<div style="font-family:\'Liberation Sans\',Arial,sans-serif;font-weight:bold;font-size:18.5px;'
    'line-height:25px;color:#231f20;white-space:nowrap;">'
    'FIGURE 5 | Nutrient climatologies for the near surface seasonal inorganic nutrient cycle in '
    '\u03bcM (ToxN, total oxidized Nitrogen; DIP, dissolved inorganic<br>'
    'phosphorous; Si, dissolved silicate) for the period between 2010 and 2014 at station 38A in WIS '
    '(methods in <span style="color:#808080;font-weight:normal">Gowen et al., 1995</span>) with the solid line<br>'
    'displaying the mean value; the horizontal bar indicates the salinity and temperature contribution '
    'to the overall density.</div>'
)
caption = Div(text=caption_html, width=1330, height=80, margin=(24, 0, 0, 22))

frame_bg = ("linear-gradient(#555,#555) 7px 7px/1px 1377px no-repeat,"
            "linear-gradient(#555,#555) 7px 7px/1349px 1px no-repeat,"
            "linear-gradient(#555,#555) 1355px 7px/1px 1377px no-repeat,#ffffff")
page = column(p_top, p_mid, p_bot, caption, spacing=0,
              styles={"background": frame_bg, "overflow": "hidden"})

open("out.html", "w").write(file_html(page, INLINE))
